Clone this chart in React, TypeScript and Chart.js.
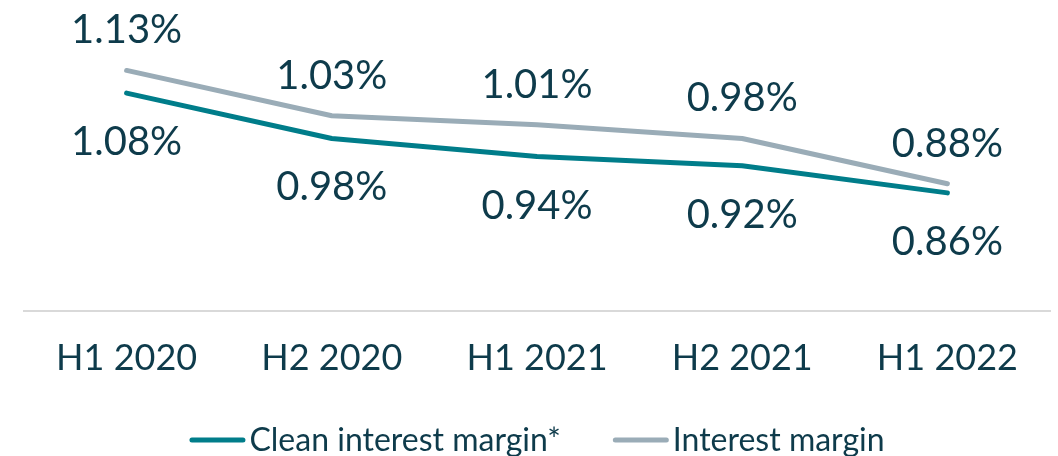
import React, { useEffect, useRef } from "react";
import { Chart, registerables } from "chart.js";

Chart.register(...registerables);

const categories = ["H1 2020", "H2 2020", "H1 2021", "H2 2021", "H1 2022"];
const cleanInterestMargin = [1.08, 0.98, 0.94, 0.92, 0.86];
const interestMargin = [1.13, 1.03, 1.01, 0.98, 0.88];
const seriesNames = ["Clean interest margin*", "Interest margin"];

const TEAL = "#007d8a";
const GRAY = "#9aacb7";
const TEXT = "#0e3b4b";
const FONT = "Lato, 'Noto Sans', sans-serif";

const dataLabelPlugin = {
  id: "dataLabels",
  afterDatasetsDraw(chart: any) {
    const ctx = chart.ctx;
    ctx.save();
    ctx.font = `40px ${FONT}`;
    ctx.fillStyle = TEXT;
    ctx.textAlign = "center";
    ctx.textBaseline = "alphabetic";
    chart.data.datasets.forEach((ds: any, di: number) => {
      const meta = chart.getDatasetMeta(di);
      meta.data.forEach((pt: any, i: number) => {
        const v = ds.data[i] as number;
        const txt = v.toFixed(2) + "%";
        const y = di === 0 ? pt.y + 62 : pt.y - 27;
        ctx.fillText(txt, pt.x, y);
      });
    });
    ctx.restore();
  },
};

// Legend drawn on the canvas below the axis: short thick line + label
const lineLegendPlugin = {
  id: "lineLegend",
  afterDraw(chart: any) {
    const ctx = chart.ctx;
    const area = chart.chartArea;
    const lineLen = 56;
    const lineGap = 4;
    const itemGap = 52;
    const lineY = 440;
    const baseY = 451;
    ctx.save();
    ctx.font = `32px ${FONT}`;
    const items = chart.data.datasets.map((ds: any) => ({
      text: ds.label as string,
      color: ds.borderColor as string,
      w: ctx.measureText(ds.label).width,
    }));
    const total = items.reduce((s: number, it: any) => s + lineLen + lineGap + it.w, 0) + itemGap * (items.length - 1);
    let x = (area.left + area.right) / 2 - total / 2;
    items.forEach((it: any) => {
      ctx.strokeStyle = it.color;
      ctx.lineWidth = 5;
      ctx.lineCap = "round";
      ctx.beginPath();
      ctx.moveTo(x + 2.5, lineY);
      ctx.lineTo(x + lineLen - 2.5, lineY);
      ctx.stroke();
      x += lineLen + lineGap;
      ctx.fillStyle = TEXT;
      ctx.textAlign = "left";
      ctx.textBaseline = "alphabetic";
      ctx.fillText(it.text, x, baseY);
      x += it.w + itemGap;
    });
    ctx.restore();
  },
};

export default function App() {
  const ref = useRef<HTMLCanvasElement>(null);
  useEffect(() => {
    if (!ref.current) return;
    const chart = new Chart(ref.current, {
      type: "line",
      data: {
        labels: categories,
        datasets: [
          {
            label: seriesNames[0],
            data: cleanInterestMargin,
            borderColor: TEAL,
            backgroundColor: TEAL,
            borderWidth: 5,
            pointRadius: 0,
            borderCapStyle: "round",
            borderJoinStyle: "round",
            tension: 0,
          },
          {
            label: seriesNames[1],
            data: interestMargin,
            borderColor: GRAY,
            backgroundColor: GRAY,
            borderWidth: 5,
            pointRadius: 0,
            borderCapStyle: "round",
            borderJoinStyle: "round",
            tension: 0,
          },
        ],
      },
      options: {
        animation: false,
        responsive: true,
        maintainAspectRatio: false,
        layout: { padding: { top: 16, left: 24, right: 8, bottom: 50 } },
        scales: {
          x: {
            offset: true,
            grid: { display: false, drawTicks: false },
            border: { display: true, color: "#d9d9d9", width: 2 },
            ticks: {
              color: TEXT,
              font: { family: FONT, size: 36 },
              padding: 26,
              maxRotation: 0,
            },
          },
          y: {
            display: false,
            min: 0.6,
            max: 1.25,
          },
        },
        plugins: {
          legend: { display: false },
          tooltip: { enabled: false },
        },
      },
      plugins: [dataLabelPlugin, lineLegendPlugin],
    });
    return () => chart.destroy();
  }, []);
  return (
    <div style={{ position: "fixed", left: 0, top: 0, width: 1058, height: 456, background: "#fff" }}>
      <canvas ref={ref} />
    </div>
  );
}
